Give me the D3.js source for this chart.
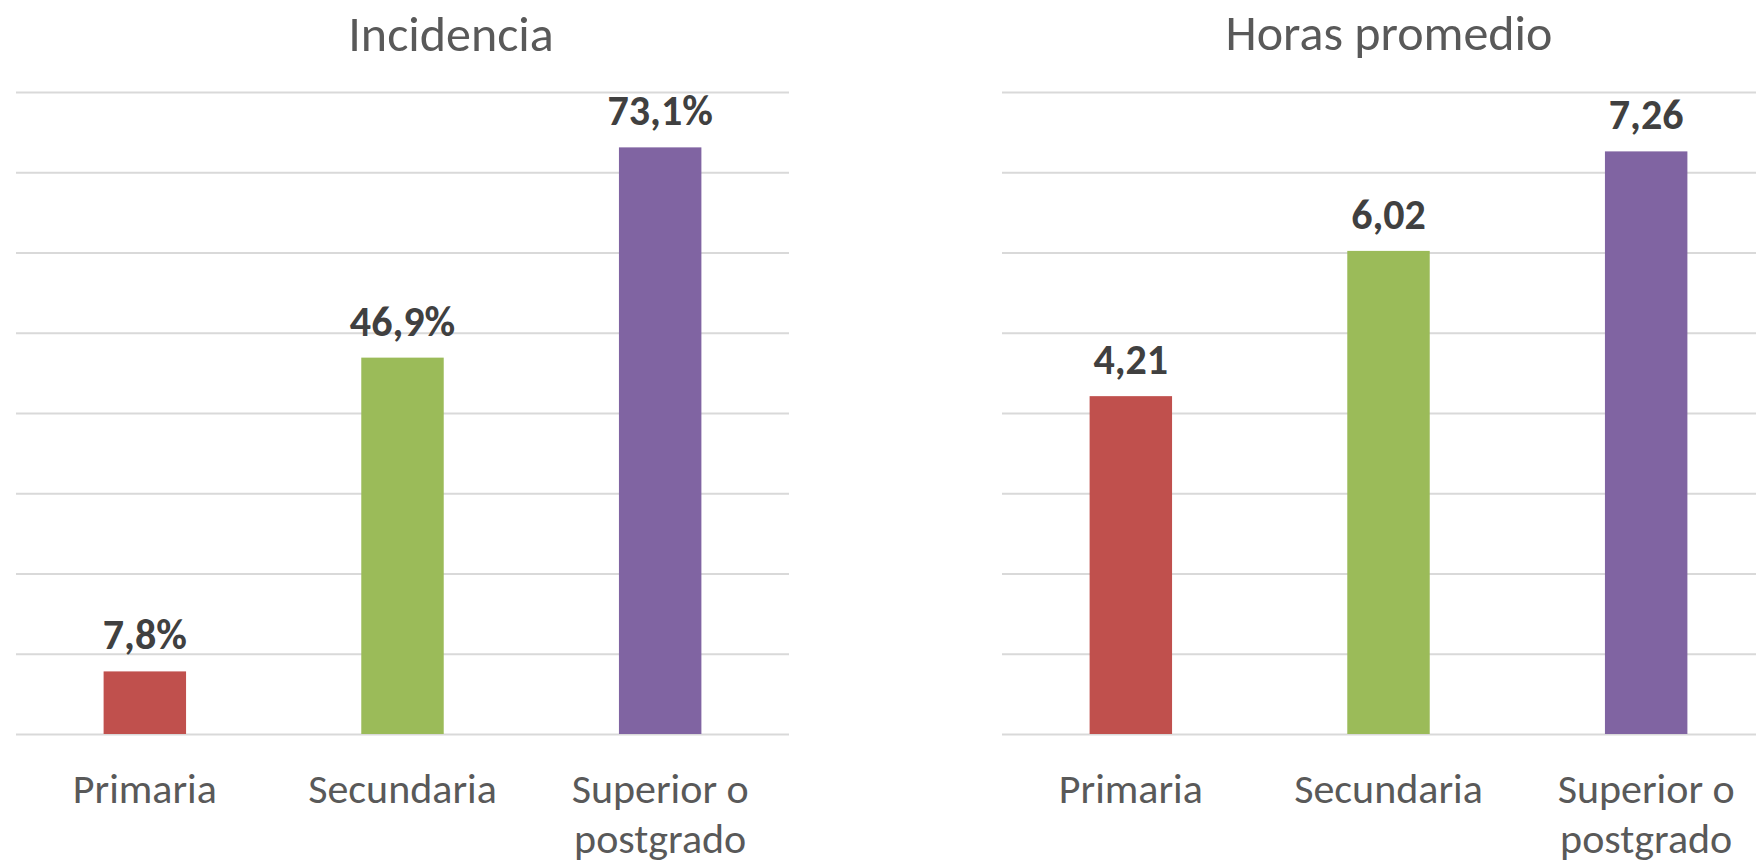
<!DOCTYPE html>
<html>
<head>
<meta charset="utf-8">
<script src="https://cdn.jsdelivr.net/npm/d3@7"></script>
<style>
  body { margin: 0; background: #fff; }
  svg { display: block; font-family: Carlito, Calibri, Lato, sans-serif; }
</style>
</head>
<body>
<div id="app"></div>
<script>
// data
const categories   = ["Primaria", "Secundaria", "Superior o postgrado"];
const catLines     = [["Primaria"], ["Secundaria"], ["Superior o", "postgrado"]];
const incidencia   = [7.8, 46.9, 73.1];
const horas        = [4.21, 6.02, 7.26];
const incTicks     = [0, 10, 20, 30, 40, 50, 60, 70, 80];
const horasTicks   = [0, 1, 2, 3, 4, 5, 6, 7, 8];
const barColors    = ["#C0504D", "#9BBB59", "#8064A2"];

const W = 1756, H = 863;
const comma = d3.formatLocale({ decimal: ",", thousands: ".", grouping: [3], currency: ["", ""] });

const svg = d3.select("#app").append("svg")
    .attr("width", W)
    .attr("height", H);

const panels = [
    { title: "Incidencia",     titleX: 451,  titleY: 51, x0: 16,   x1: 789,  values: incidencia, ticks: incTicks,   max: 80, fmt: (v) => comma.format(".1f")(v) + "%" },
    { title: "Horas promedio", titleX: 1389, titleY: 50, x0: 1002, x1: 1775, values: horas,      ticks: horasTicks, max: 8,  fmt: (v) => comma.format(".2f")(v) }
];

const yTop = 92, yBot = 734;

panels.forEach(function (p) {
    const g = svg.append("g");

    const x = d3.scaleBand()
        .domain(categories)
        .range([p.x0, p.x1])
        .paddingInner(0.68)
        .paddingOuter(0.34);

    const y = d3.scaleLinear()
        .domain([0, p.max])
        .range([yBot, yTop]);

    // gridlines
    const grid = g.append("g")
        .attr("transform", "translate(" + p.x0 + ",0)")
        .call(d3.axisLeft(y).tickValues(p.ticks).tickSize(-(p.x1 - p.x0)).tickFormat(""));
    grid.select(".domain").remove();
    grid.selectAll(".tick line")
        .attr("stroke", "#D9D9D9")
        .attr("stroke-width", 2);

    // bars
    g.selectAll("rect.bar")
        .data(p.values).enter()
        .append("rect")
        .attr("class", "bar")
        .attr("x", (d, i) => x(categories[i]))
        .attr("y", (d) => y(d))
        .attr("width", x.bandwidth())
        .attr("height", (d) => y(0) - y(d))
        .attr("fill", (d, i) => barColors[i]);

    // value labels
    g.selectAll("text.val")
        .data(p.values).enter()
        .append("text")
        .attr("class", "val")
        .attr("x", (d, i) => x(categories[i]) + x.bandwidth() / 2)
        .attr("y", (d) => y(d) - 22)
        .attr("text-anchor", "middle")
        .style("font-size", "42px")
        .style("font-weight", "bold")
        .attr("fill", "#404040")
        .text((d) => p.fmt(d));

    // category labels
    const cat = g.selectAll("text.cat")
        .data(categories).enter()
        .append("text")
        .attr("class", "cat")
        .attr("x", (d) => x(d) + x.bandwidth() / 2)
        .attr("y", 803)
        .attr("text-anchor", "middle")
        .style("font-size", "42px")
        .attr("fill", "#595959");
    cat.selectAll("tspan")
        .data((d, i) => catLines[i]).enter()
        .append("tspan")
        .attr("x", function () { return this.parentNode.getAttribute("x"); })
        .attr("dy", (d, i) => i === 0 ? 0 : 50)
        .text((d) => d);

    // title
    g.append("text")
        .attr("x", p.titleX)
        .attr("y", p.titleY)
        .attr("text-anchor", "middle")
        .style("font-size", "50px")
        .attr("fill", "#595959")
        .text(p.title);
});
</script>
</body>
</html>
